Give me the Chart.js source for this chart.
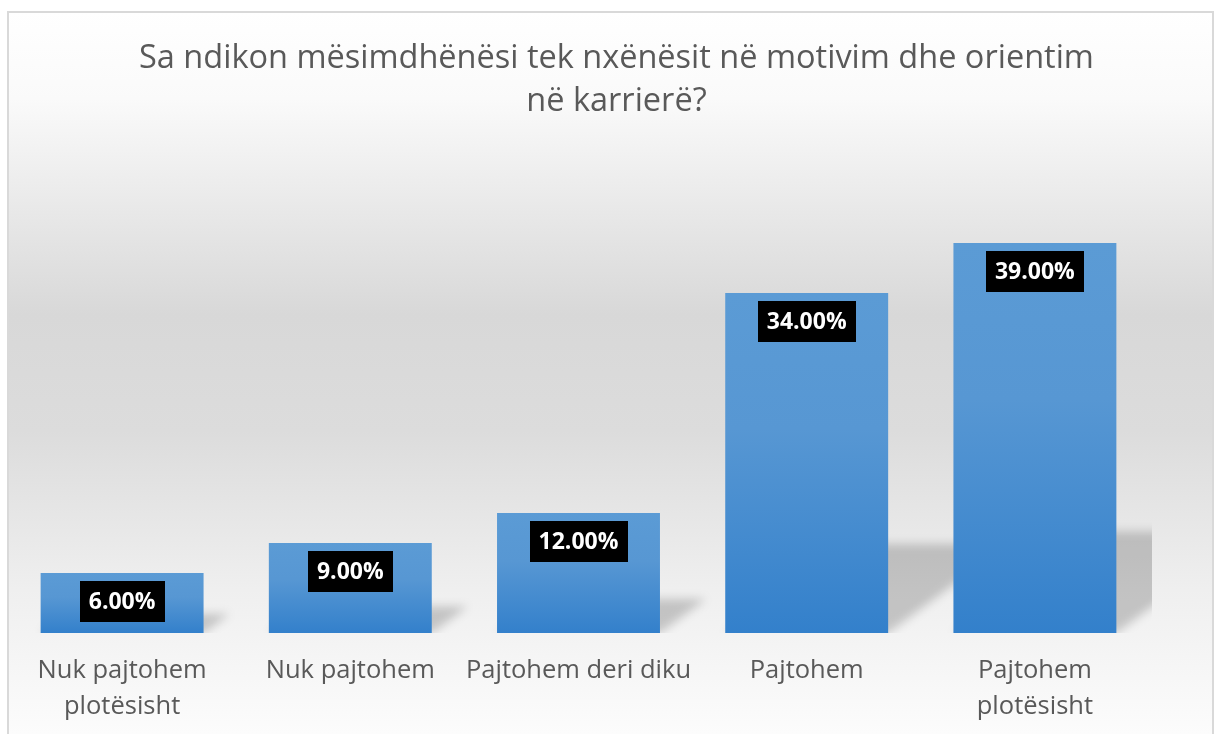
<!DOCTYPE html>
<html>
<head>
<meta charset="utf-8">
<script src="https://cdn.jsdelivr.net/npm/chart.js@4"></script>
<style>
  html, body { margin: 0; padding: 0; background: #ffffff; }
  #wrap { position: relative; width: 1214px; height: 734px; }
</style>
</head>
<body>
<div id="wrap"><canvas id="c" width="1214" height="734"></canvas></div>
<script>
const titleLines = ["Sa ndikon mësimdhënësi tek nxënësit në motivim dhe orientim", "në karrierë?"];
const categories = [
  ["Nuk pajtohem", "plotësisht"],
  "Nuk pajtohem",
  "Pajtohem deri diku",
  "Pajtohem",
  ["Pajtohem", "plotësisht"]
];
const values = [6, 9, 12, 34, 39];
const valueLabels = ["6.00%", "9.00%", "12.00%", "34.00%", "39.00%"];

const bgPlugin = {
  id: 'bgPlugin',
  beforeDraw(chart) {
    const ctx = chart.ctx;
    ctx.save();
    ctx.fillStyle = '#ffffff';
    ctx.fillRect(0, 0, chart.width, chart.height);
    const g = ctx.createLinearGradient(0, 12, 0, chart.height);
    g.addColorStop(0, '#ffffff');
    g.addColorStop(0.12, '#fafafa');
    g.addColorStop(0.42, '#d8d8d8');
    g.addColorStop(0.58, '#dcdcdc');
    g.addColorStop(0.8, '#efefef');
    g.addColorStop(1, '#fcfcfc');
    ctx.fillStyle = g;
    ctx.fillRect(8, 12, 1205, chart.height);
    ctx.strokeStyle = '#d9d9d9';
    ctx.lineWidth = 2;
    ctx.strokeRect(8, 12, 1205, chart.height + 10);
    ctx.restore();
  }
};

const shadowPlugin = {
  id: 'shadowPlugin',
  beforeDatasetsDraw(chart) {
    const ctx = chart.ctx;
    const area = chart.chartArea;
    const meta = chart.getDatasetMeta(0);
    ctx.save();
    ctx.beginPath();
    ctx.rect(area.left, area.top, area.right + 3 - area.left, area.bottom - area.top);
    ctx.clip();
    ctx.filter = 'blur(5px)';
    ctx.fillStyle = 'rgba(0,0,0,0.19)';
    meta.data.forEach(el => {
      const left = el.x - el.width / 2, right = el.x + el.width / 2;
      const base = el.base, h = el.base - el.y;
      const sh = 0.25 * h + 4;
      const sx = 1.35 * sh;
      ctx.beginPath();
      ctx.moveTo(left, base);
      ctx.lineTo(left + sx, base - sh);
      ctx.lineTo(right + sx, base - sh);
      ctx.lineTo(right, base);
      ctx.closePath();
      ctx.fill();
    });
    ctx.restore();
  }
};

const labelPlugin = {
  id: 'labelPlugin',
  afterDatasetsDraw(chart) {
    const ctx = chart.ctx;
    const meta = chart.getDatasetMeta(0);
    ctx.save();
    ctx.font = 'bold 23px "Open Sans"';
    ctx.textAlign = 'center';
    ctx.textBaseline = 'middle';
    meta.data.forEach((el, i) => {
      const txt = valueLabels[i];
      const w = ctx.measureText(txt).width + 18;
      const top = el.y + 8;
      ctx.fillStyle = '#000000';
      ctx.fillRect(Math.round(el.x - w / 2), top, Math.round(w), 41);
      ctx.fillStyle = '#ffffff';
      ctx.fillText(txt, el.x, top + 21);
    });
    ctx.restore();
  }
};

function barGradient(context) {
  const chart = context.chart;
  if (!chart.chartArea || context.type !== 'data') return '#5b9bd5';
  const y = chart.scales.y;
  const top = y.getPixelForValue(values[context.dataIndex]);
  const bot = y.getPixelForValue(0);
  if (!isFinite(top) || !isFinite(bot) || top === bot) return '#5b9bd5';
  const g = chart.ctx.createLinearGradient(0, top, 0, bot);
  g.addColorStop(0, '#5b9bd5');
  g.addColorStop(0.4, '#5797d3');
  g.addColorStop(1, '#3380cb');
  return g;
}

new Chart(document.getElementById('c'), {
  type: 'bar',
  data: {
    labels: categories,
    datasets: [{
      data: values,
      backgroundColor: barGradient,
      borderWidth: 0,
      barPercentage: 0.714,
      categoryPercentage: 1.0
    }]
  },
  options: {
    responsive: false,
    animation: false,
    layout: { padding: { left: 8, right: -11, top: 12, bottom: 0 } },
    plugins: {
      legend: { display: false },
      tooltip: { enabled: false },
      title: {
        display: true,
        text: titleLines,
        color: '#595959',
        font: { family: '"Open Sans"', size: 32.5, weight: 'normal', lineHeight: 1.323 },
        padding: { top: 25.5, bottom: 59.5 }
      }
    },
    scales: {
      x: {
        grid: { display: false, drawTicks: false },
        border: { display: false },
        ticks: {
          color: '#595959',
          font: { family: '"Open Sans"', size: 25.5, lineHeight: 1.412 },
          padding: 20,
          maxRotation: 0,
          autoSkip: false
        },
        afterFit(scale) { scale.height = 101; }
      },
      y: {
        display: true,
        position: 'right',
        min: 0,
        max: 45,
        grid: { display: false, drawTicks: false },
        border: { display: false },
        ticks: { display: false },
        afterFit(scale) { scale.width = 76; }
      }
    }
  },
  plugins: [bgPlugin, shadowPlugin, labelPlugin]
});
</script>
</body>
</html>
